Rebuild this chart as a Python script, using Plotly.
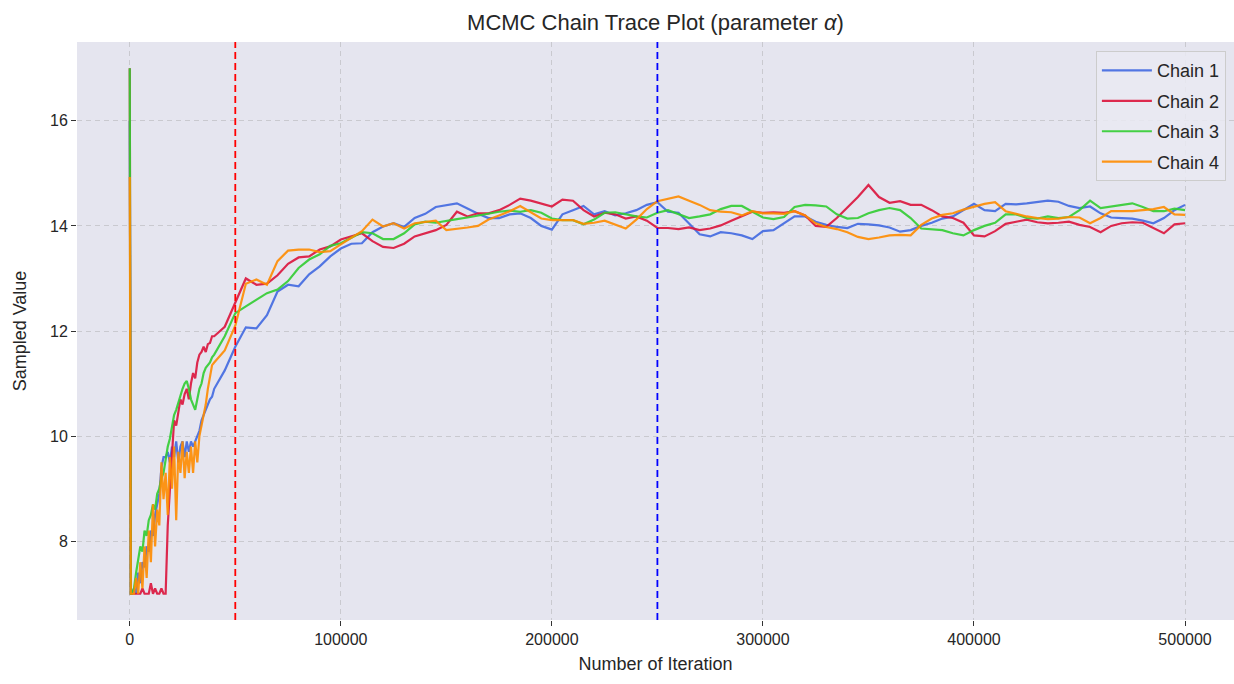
import plotly.graph_objects as go

# Iteration numbers at which the chains are recorded
iterations = [0, 500] + list(range(1000, 40001, 1000)) + list(range(45000, 500001, 5000))

chain_names = ["Chain 1", "Chain 2", "Chain 3", "Chain 4"]
chain_colors = ["#4169E1", "#DC143C", "#32CD32", "#FF8C00"]

burn_in_end = 50000
half_point = 250000

chain1 = [
    16.0, 7.0,
    7.0, 7.1, 7.0, 7.4, 7.2, 7.6, 7.5, 7.9, 7.8, 8.2,
    8.1, 8.5, 8.7, 8.9, 9.4, 9.6, 9.6, 9.7, 9.5, 9.8,
    9.6, 9.9, 9.5, 9.8, 9.9, 9.6, 9.9, 9.7, 9.9, 9.8,
    9.9, 10.0, 10.1, 10.3, 10.4, 10.5, 10.6, 10.7, 10.75, 10.9,
    11.25, 11.7, 12.07, 12.05, 12.3, 12.75, 12.88, 12.85, 13.08, 13.23,
    13.42, 13.57, 13.66, 13.67, 13.88, 13.99, 14.05, 13.98, 14.15, 14.23,
    14.36, 14.4, 14.43, 14.33, 14.23, 14.15, 14.15, 14.22, 14.24, 14.15,
    14.0, 13.93, 14.22, 14.3, 14.38, 14.22, 14.28, 14.2, 14.24, 14.3,
    14.4, 14.45, 14.27, 14.25, 14.05, 13.84, 13.8, 13.88, 13.86, 13.82,
    13.75, 13.9, 13.92, 14.05, 14.18, 14.18, 14.08, 14.02, 13.98, 13.96,
    14.04, 14.03, 14.01, 13.97, 13.89, 13.92, 14.0, 14.06, 14.14, 14.18,
    14.3, 14.42, 14.3, 14.28, 14.42, 14.41, 14.43, 14.45, 14.48, 14.46,
    14.38, 14.34, 14.37, 14.24, 14.16, 14.15, 14.14, 14.1, 14.05, 14.15,
    14.3, 14.4,
]

chain2 = [
    17.0, 7.0,
    7.0, 7.0, 7.0, 7.0, 7.0, 7.1, 7.0, 7.0, 7.0, 7.2,
    7.0, 7.1, 7.0, 7.0, 7.1, 7.0, 7.0, 8.3, 8.9, 9.5,
    10.3, 10.2, 10.5, 10.7, 10.6, 10.8, 10.9, 10.7, 11.0, 11.2,
    11.1, 11.4, 11.55, 11.6, 11.7, 11.6, 11.75, 11.77, 11.9, 11.9,
    12.08, 12.53, 13.0, 12.88, 12.9, 13.06, 13.28, 13.4, 13.42, 13.55,
    13.61, 13.74, 13.8, 13.86, 13.71, 13.6, 13.58, 13.66, 13.8, 13.86,
    13.92, 14.02, 14.27, 14.18, 14.24, 14.24, 14.3, 14.4, 14.52, 14.48,
    14.43, 14.37, 14.5, 14.48, 14.3, 14.18, 14.25, 14.22, 14.14, 14.18,
    14.1, 13.96, 13.96, 13.94, 13.97, 13.92, 13.95, 14.01, 14.1, 14.18,
    14.27, 14.25, 14.26, 14.25, 14.28, 14.2, 14.0, 13.98, 14.15, 14.35,
    14.55, 14.78, 14.55, 14.44, 14.47, 14.4, 14.4, 14.3, 14.18, 14.15,
    14.06, 13.82, 13.8, 13.9, 14.04, 14.08, 14.12, 14.07, 14.05, 14.06,
    14.08, 14.02, 13.98, 13.88, 14.0, 14.05, 14.07, 14.06, 13.96, 13.86,
    14.03, 14.05,
]

chain3 = [
    17.0, 7.0,
    7.0, 7.1, 7.4, 7.7, 7.9, 7.8, 8.2, 8.1, 8.4, 8.5,
    8.7, 8.6, 8.9, 9.0, 9.2, 9.3, 9.6, 9.8, 9.95, 10.2,
    10.4, 10.5, 10.65, 10.8, 10.9, 11.0, 11.05, 10.9, 10.7, 10.6,
    10.5, 10.7, 10.9, 11.0, 11.2, 11.3, 11.35, 11.4, 11.5, 11.55,
    11.9, 12.34, 12.47, 12.59, 12.72, 12.79, 12.95, 13.2, 13.36, 13.46,
    13.62, 13.67, 13.78, 13.88, 13.86, 13.75, 13.75, 13.86, 14.03, 14.08,
    14.06, 14.1, 14.13, 14.16, 14.2, 14.24, 14.27, 14.29, 14.27, 14.3,
    14.25, 14.14, 14.11, 14.11, 14.03, 14.12, 14.25, 14.26, 14.22, 14.18,
    14.16, 14.25, 14.3, 14.22, 14.15, 14.18, 14.22, 14.32, 14.38, 14.38,
    14.27, 14.16, 14.13, 14.17, 14.36, 14.4, 14.39, 14.37, 14.22, 14.14,
    14.15, 14.24, 14.3, 14.34, 14.3, 14.15, 13.95, 13.94, 13.92, 13.86,
    13.82, 13.92, 14.0, 14.06, 14.22, 14.22, 14.15, 14.14, 14.18, 14.15,
    14.17, 14.3, 14.48, 14.34, 14.37, 14.4, 14.43, 14.36, 14.28, 14.28,
    14.33, 14.3,
]

chain4 = [
    14.93, 7.0,
    7.0, 7.0, 7.3, 7.0, 7.6, 7.1, 7.9, 7.3, 8.2, 7.6,
    8.7, 7.9, 8.6, 8.3, 9.5, 8.8, 9.3, 8.5, 9.6, 9.0,
    9.8, 8.4, 9.7, 9.3, 9.9, 9.2, 9.7, 9.3, 9.8, 9.3,
    9.9, 9.5, 10.0, 10.2, 10.4, 10.6, 10.9, 11.1, 11.35, 11.4,
    11.63, 12.1, 12.9, 12.98, 12.88, 13.33, 13.53, 13.55, 13.55, 13.5,
    13.52, 13.65, 13.78, 13.9, 14.12, 13.99, 14.05, 13.95, 14.05, 14.08,
    14.1, 13.92, 13.94, 13.97, 14.0, 14.12, 14.2, 14.28, 14.38, 14.26,
    14.14, 14.11, 14.11, 14.11, 14.04, 14.06, 14.1, 14.02, 13.95, 14.12,
    14.32, 14.47, 14.52, 14.56, 14.48, 14.4, 14.3, 14.27, 14.26, 14.2,
    14.28, 14.24, 14.24, 14.23, 14.28, 14.2, 14.05, 13.98, 13.94, 13.88,
    13.79, 13.75, 13.78, 13.82, 13.83, 13.82, 14.02, 14.14, 14.21, 14.24,
    14.31, 14.37, 14.42, 14.45, 14.28, 14.23, 14.18, 14.15, 14.13, 14.14,
    14.17, 14.16, 14.05, 14.15, 14.28, 14.28, 14.28, 14.3, 14.32, 14.36,
    14.22, 14.21,
]

x_ticks = [0, 100000, 200000, 300000, 400000, 500000]
y_ticks = [8, 10, 12, 14, 16]

FONT = "Liberation Sans, Arial, sans-serif"
TEXT = "#262626"
GRID = "#C9C9CF"

fig = go.Figure()
for i, (name, color, values) in enumerate(zip(chain_names, chain_colors, [chain1, chain2, chain3, chain4])):
    fig.add_trace(go.Scatter(
        x=iterations, y=values, mode="lines", name=name,
        legendgroup=f"g{i}",
        line=dict(color=color, width=2.2),
        opacity=0.9,
    ))

fig.add_vline(x=burn_in_end, line=dict(color="#FF0000", width=1.8, dash="7px,4px"))
fig.add_vline(x=half_point, line=dict(color="#0000FF", width=1.8, dash="7px,4px"))

axis_common = dict(
    showgrid=True, gridcolor=GRID, griddash="5px,4px", gridwidth=1,
    zeroline=False, showline=False,
    ticks="outside", ticklen=5, tickwidth=1.2, tickcolor="#333333",
    tickfont=dict(family=FONT, size=16, color=TEXT),
    title_font=dict(family=FONT, size=18, color=TEXT),
)

fig.update_layout(
    width=1234, height=684,
    margin=dict(l=77, r=0, t=42, b=64),
    paper_bgcolor="white",
    plot_bgcolor="#E5E5EF",
    font=dict(family=FONT, color=TEXT),
    title=dict(
        text="MCMC Chain Trace Plot (parameter <i>α</i>)",
        x=0.5, xref="paper", xanchor="center",
        y=1 - 22 / 684, yref="container", yanchor="middle",
        font=dict(family=FONT, size=22, color=TEXT),
    ),
    xaxis=dict(
        range=[-25000, 523200],
        tickvals=x_ticks, ticktext=[str(v) for v in x_ticks],
        title=dict(text="Number of Iteration", standoff=10),
        **axis_common,
    ),
    yaxis=dict(
        range=[6.5, 17.5],
        tickvals=y_ticks, ticktext=[str(v) for v in y_ticks],
        title=dict(text="Sampled Value", standoff=18),
        **axis_common,
    ),
    legend=dict(
        x=0.993, y=0.984, xanchor="right", yanchor="top",
        bgcolor="rgba(234,234,242,0.85)", bordercolor="#CCCCCC", borderwidth=1,
        font=dict(family=FONT, size=18, color=TEXT),
        tracegroupgap=4, itemwidth=50,
    ),
    showlegend=True,
)

fig.write_html("out.html")
